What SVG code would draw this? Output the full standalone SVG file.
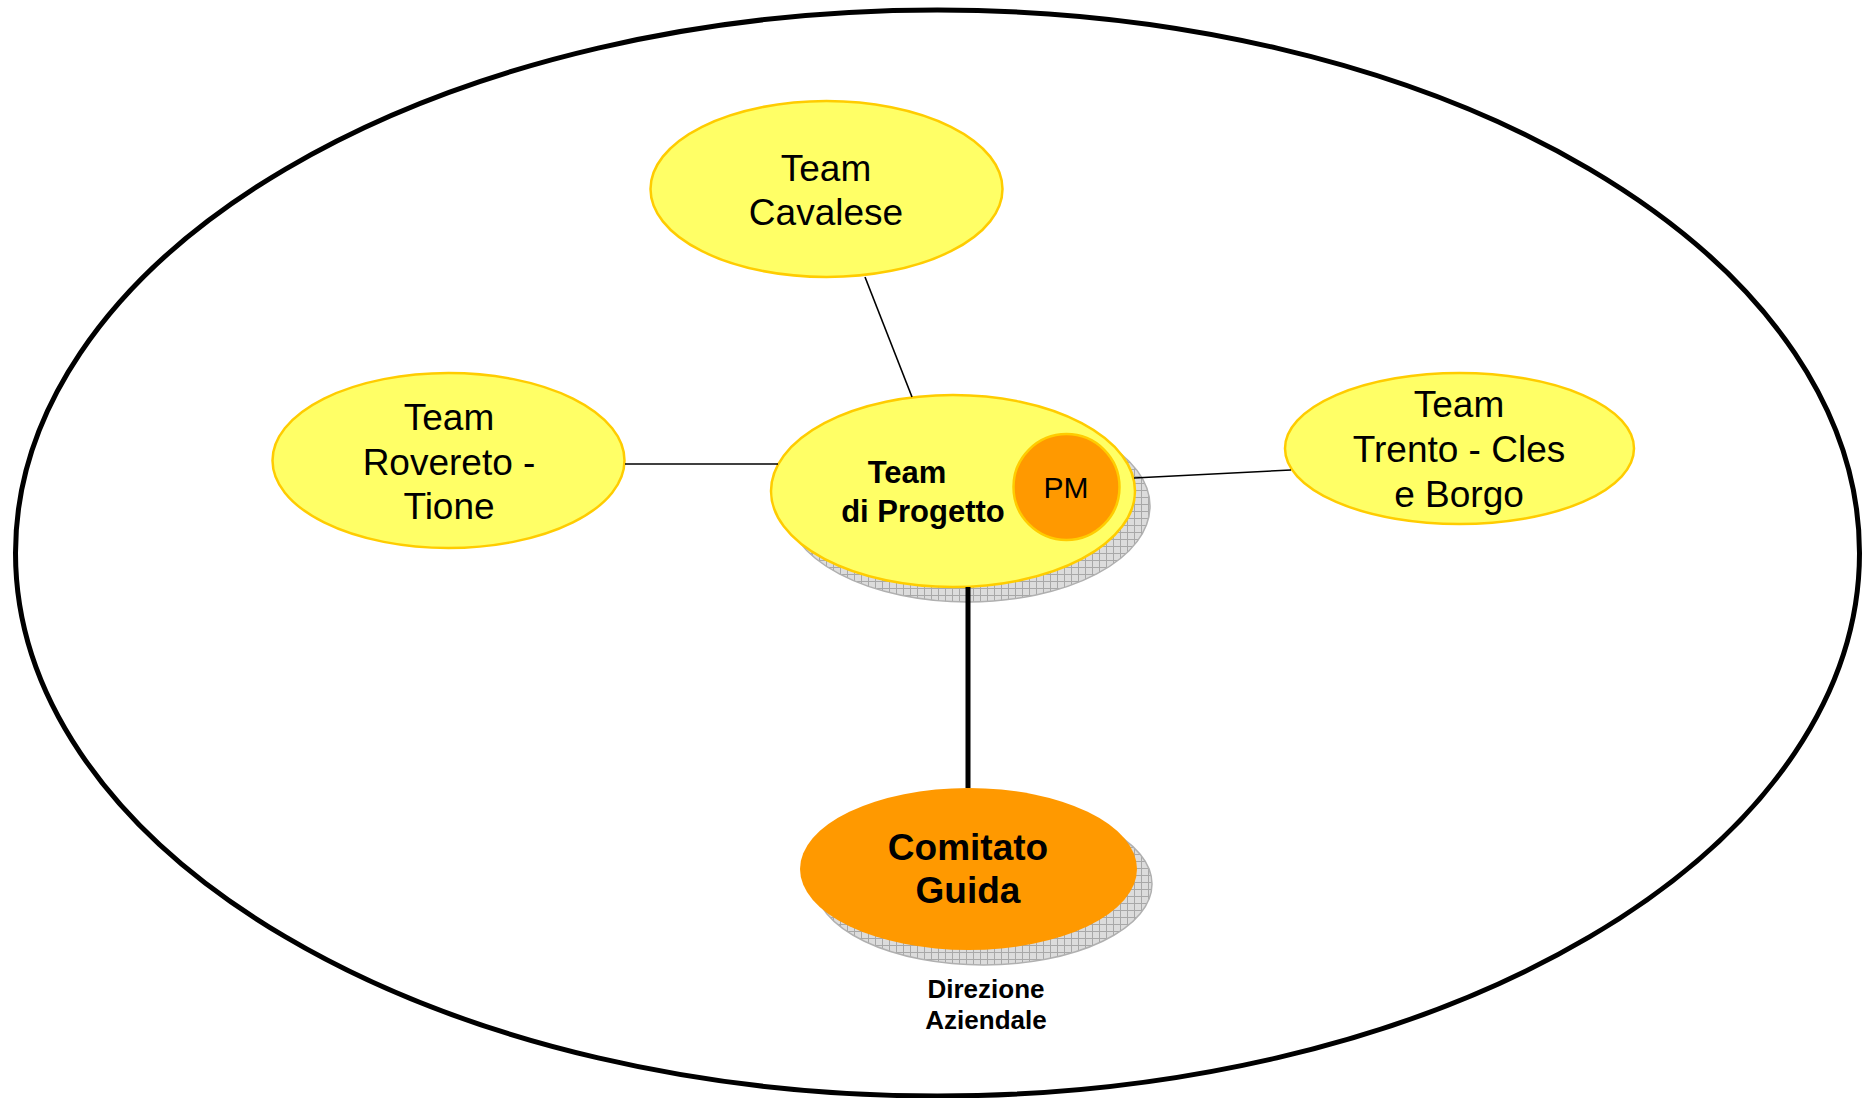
<svg xmlns="http://www.w3.org/2000/svg" width="1863" height="1098" viewBox="0 0 1863 1098">
<style>
text{font-family:"Liberation Sans",Arial,sans-serif;fill:#000}
.team{fill:#FFFF66;stroke:#FFCC00;stroke-width:2.5}
.orange{fill:#FF9900}
.lbl{font-size:37px;text-anchor:middle}
.b{font-weight:bold}
.thin{stroke:#000;stroke-width:1.6;fill:none}
.shadow{fill:url(#grid);stroke:#b0b0b0;stroke-width:1.5}
</style>
<defs>
<pattern id="grid" width="7" height="7" patternUnits="userSpaceOnUse">
<rect width="7" height="7" fill="#dcdcdc"/>
<path d="M0 0.5H7M0.5 0V7" stroke="#a8a8a8" stroke-width="1"/>
</pattern>
</defs>
<rect width="1863" height="1098" fill="#fff"/>
<ellipse id="outer" cx="937.5" cy="553" rx="922" ry="543" fill="none" stroke="#000" stroke-width="5"/>
<g id="team-cavalese">
<ellipse class="team" cx="826.5" cy="189" rx="176" ry="88"/>
<text class="lbl" x="826" y="181">Team</text>
<text class="lbl" x="826" y="225">Cavalese</text>
</g>
<g id="team-rovereto">
<ellipse class="team" cx="448.5" cy="460.5" rx="176" ry="87.5"/>
<text class="lbl" x="449" y="430">Team</text>
<text class="lbl" x="449" y="475">Rovereto -</text>
<text class="lbl" x="449" y="519">Tione</text>
</g>
<g id="team-trento">
<ellipse class="team" cx="1459.5" cy="448.5" rx="174.5" ry="75.5"/>
<text class="lbl" x="1459" y="417">Team</text>
<text class="lbl" x="1459" y="462">Trento - Cles</text>
<text class="lbl" x="1459" y="507">e Borgo</text>
</g>
<g id="team-progetto">
<ellipse class="shadow" cx="968" cy="506" rx="182" ry="96"/>
<ellipse class="team" cx="953" cy="491" rx="182" ry="96"/>
<text class="b" x="907" y="483" font-size="31" text-anchor="middle">Team</text>
<text class="b" x="923" y="522" font-size="31" text-anchor="middle">di Progetto</text>
</g>
<g id="pm">
<circle class="orange" cx="1066.5" cy="487" r="53" stroke="#FFCC00" stroke-width="2.5"/>
<text x="1066" y="498" font-size="30" text-anchor="middle">PM</text>
</g>
<g id="comitato-guida">
<ellipse class="shadow" cx="983.5" cy="884" rx="168.5" ry="81"/>
<ellipse class="orange" cx="968.5" cy="869" rx="168.5" ry="81"/>
<text class="lbl b" x="968" y="860">Comitato</text>
<text class="lbl b" x="968" y="903">Guida</text>
</g>
<g id="direzione-label">
<text class="b" x="986" y="998" font-size="26" text-anchor="middle">Direzione</text>
<text class="b" x="986" y="1029" font-size="26" text-anchor="middle">Aziendale</text>
</g>
<g id="connectors">
<line class="thin" x1="865" y1="277" x2="912" y2="397"/>
<line class="thin" x1="625" y1="464" x2="778" y2="464"/>
<line class="thin" x1="1134" y1="478" x2="1291" y2="470"/>
<line x1="968" y1="587" x2="968" y2="788" stroke="#000" stroke-width="5"/>
</g>
</svg>
